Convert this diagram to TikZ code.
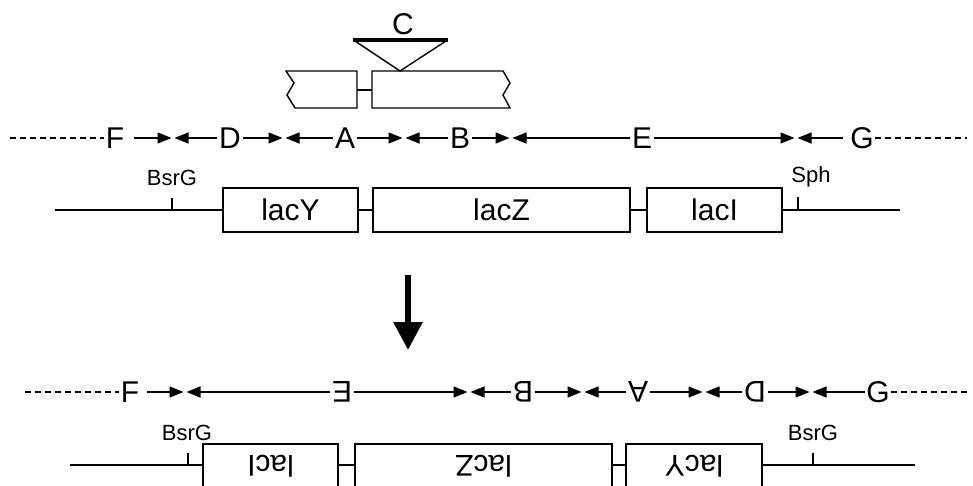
\documentclass[tikz,border=0pt]{standalone}
\usepackage{fontspec}
\setmainfont{Liberation Sans}
\usetikzlibrary{arrows.meta}

\tikzset{
	big/.style={font=\fontsize{30}{34}\selectfont, inner sep=1.5pt},
	small/.style={font=\fontsize{22}{26}\selectfont, inner sep=0pt},
	gene/.style={draw, line width=1.4pt, minimum height=44pt, inner sep=0pt, font=\fontsize{30}{34}\selectfont},
	dim/.style={line width=1.3pt, -{Triangle[length=14pt,width=11pt]}, shorten >=1.5pt},
	dots/.style={line width=1.2pt, dash pattern=on 6pt off 4pt},
	thin/.style={line width=1.4pt}
}

\begin{document}
\begin{tikzpicture}[x=1pt, y=-1pt]
	\useasboundingbox (0,0) rectangle (973,486);
	\clip (0,0) rectangle (973,486);

	% insertion C over the cut fragment
	\node[big] (C) at (403,24) {C};
	\draw[line width=4.5pt] (353,40) -- (448,40);
	\draw[thin] (355,41) -- (400,71) -- (446,41);
	\draw[thin] (357,71) -- (286,71) -- (294,83) -- (287,95) -- (295,108) -- (357,108) -- cycle;
	\draw[thin] (372,71) -- (503,71) -- (510,83) -- (503,95) -- (510,108) -- (372,108) -- cycle;
	\draw[thin] (357,90) -- (372,90);

	% segments before
	\node[big] (F1) at (115,138) {F};
	\node[big] (D1) at (230,138) {D};
	\node[big] (A1) at (345,138) {A};
	\node[big] (B1) at (460,138) {B};
	\node[big] (E1) at (642,138) {E};
	\node[big] (G1) at (862,138) {G};
	\coordinate (l1) at (10,138);
	\coordinate (r1) at (967,138);
	\coordinate (s1) at (173,138);
	\coordinate (s2) at (284,138);
	\coordinate (s3) at (404,138);
	\coordinate (s4) at (511,138);
	\coordinate (s5) at (796,138);
	\draw[dots] (l1) -- (F1);
	\draw[dots] (G1) -- (r1);
	\draw[dim] ([xshift=8pt]F1.east) -- (s1);
	\draw[dim] (D1) -- (s1);
	\draw[dim] (D1) -- (s2);
	\draw[dim] (A1) -- (s2);
	\draw[dim] (A1) -- (s3);
	\draw[dim] (B1) -- (s3);
	\draw[dim] (B1) -- (s4);
	\draw[dim] (E1) -- (s4);
	\draw[dim] (E1) -- (s5);
	\draw[dim] ([xshift=-6pt]G1.west) -- (s5);

	% gene map before
	\node[gene, minimum width=135pt] (lacY1) at (290.5,210) {lacY};
	\node[gene, minimum width=257pt] (lacZ1) at (501.5,210) {lacZ};
	\node[gene, minimum width=135pt] (lacI1) at (714.5,210) {lacI};
	\coordinate (g1l) at (55,210);
	\coordinate (g1r) at (900,210);
	\draw[thin] (g1l) -- (lacY1.west);
	\draw[thin] (lacY1.east) -- (lacZ1.west);
	\draw[thin] (lacZ1.east) -- (lacI1.west);
	\draw[thin] (lacI1.east) -- (g1r);
	\coordinate (bsrg1) at (172,210);
	\coordinate (sph1) at (798,210);
	\draw[thin] (bsrg1) -- ++(0,-12);
	\draw[thin] (sph1) -- ++(0,-13);
	\node[small] (bsrgl1) at (172,178) {BsrG};
	\node[small] (sphl1) at (811,177) {Sph};

	% inversion
	\coordinate (down1) at (408,275);
	\coordinate (down2) at (408,350);
	\draw[line width=6pt, -{Triangle[length=28pt,width=28pt]}] (down1) -- (down2);

	% segments after
	\node[big] (F2) at (130,392) {F};
	\node[big, rotate=180] (E2) at (342,392) {E};
	\node[big, rotate=180] (B2) at (523,392) {B};
	\node[big, rotate=180] (A2) at (638,392) {A};
	\node[big, rotate=180] (D2) at (755,392) {D};
	\node[big] (G2) at (878,392) {G};
	\coordinate (l2) at (25,392);
	\coordinate (r2) at (967,392);
	\coordinate (t1) at (185,392);
	\coordinate (t2) at (469,392);
	\coordinate (t3) at (583,392);
	\coordinate (t4) at (704,392);
	\coordinate (t5) at (811,392);
	\draw[dots] (l2) -- (F2);
	\draw[dots] (G2) -- (r2);
	\draw[dim] ([xshift=6pt]F2.east) -- (t1);
	\draw[dim] (E2) -- (t1);
	\draw[dim] (E2) -- (t2);
	\draw[dim] (B2) -- (t2);
	\draw[dim] (B2) -- (t3);
	\draw[dim] (A2) -- (t3);
	\draw[dim] (A2) -- (t4);
	\draw[dim] (D2) -- (t4);
	\draw[dim] (D2) -- (t5);
	\draw[dim] (G2) -- (t5);

	% gene map after
	\node[gene, rotate=180, minimum width=135pt] (lacI2) at (270.5,466) {lacI};
	\node[gene, rotate=180, minimum width=257pt] (lacZ2) at (483.5,466) {lacZ};
	\node[gene, rotate=180, minimum width=136pt] (lacY2) at (694,466) {lacY};
	\coordinate (g2l) at (70,465);
	\coordinate (g2r) at (915,465);
	\draw[thin] (g2l) -- (g2l -| lacI2.east);
	\draw[thin] (lacI2.west |- g2l) -- (lacZ2.east |- g2l);
	\draw[thin] (lacZ2.west |- g2l) -- (lacY2.east |- g2l);
	\draw[thin] (lacY2.west |- g2l) -- (g2r);
	\coordinate (bsrg2) at (188,465);
	\coordinate (bsrg3) at (813,465);
	\draw[thin] (bsrg2) -- ++(0,-12);
	\draw[thin] (bsrg3) -- ++(0,-12);
	\node[small] (bsrgl2) at (187,433) {BsrG};
	\node[small] (bsrgl3) at (813,433) {BsrG};
\end{tikzpicture}
\end{document}
